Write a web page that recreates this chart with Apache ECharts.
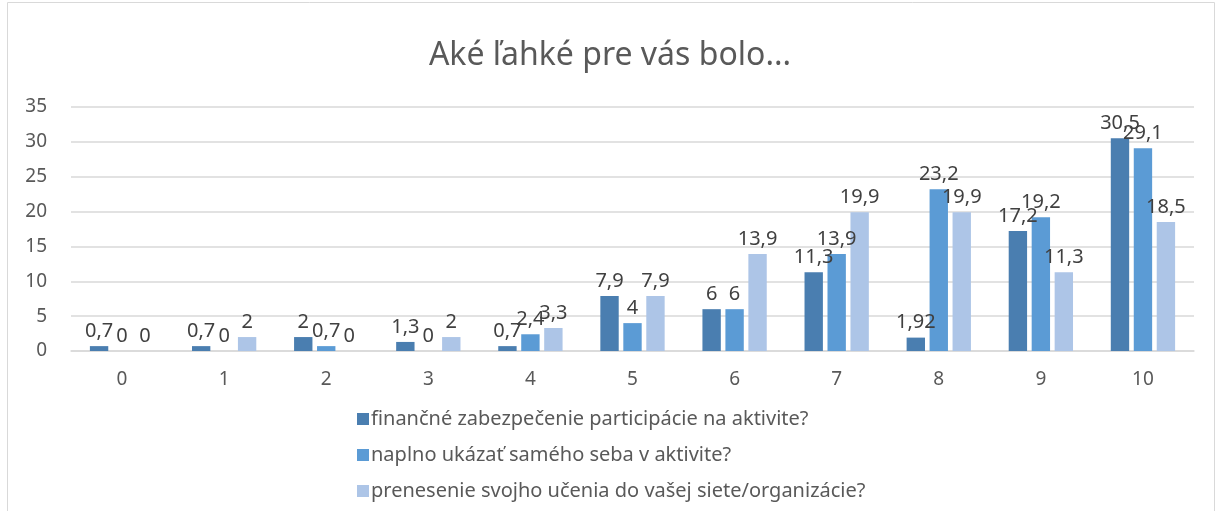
<!DOCTYPE html>
<html>
<head>
<meta charset="utf-8">
<script src="https://cdn.jsdelivr.net/npm/echarts@6/dist/echarts.min.js"></script>
<style>
  html, body { margin: 0; padding: 0; background: #fff; }
  #chart { width: 1220px; height: 511px; }
</style>
</head>
<body>
<div id="chart"></div>
<script>
  const categories = ['0', '1', '2', '3', '4', '5', '6', '7', '8', '9', '10']
  const seriesNames = [
    'finančné zabezpečenie participácie na aktivite?',
    'naplno ukázať samého seba v aktivite?',
    'prenesenie svojho učenia do vašej siete/organizácie?'
  ]
  const financne = [0.7, 0.7, 2, 1.3, 0.7, 7.9, 6, 11.3, 1.92, 17.2, 30.5]
  const naplno = [0, 0, 0.7, 0, 2.4, 4, 6, 13.9, 23.2, 19.2, 29.1]
  const prenesenie = [0, 2, 0, 2, 3.3, 7.9, 13.9, 19.9, 19.9, 11.3, 18.5]
  const colors = ['#4a7eb0', '#5b9bd5', '#adc5e7']

  const font = '"Noto Sans", "Open Sans", sans-serif'
  const chart = echarts.init(document.getElementById('chart'))

  const makeSeries = (name, data, color) => ({
    name,
    type: 'bar',
    data,
    barGap: '25%',
    barCategoryGap: '37%',
    itemStyle: { color },
    label: {
      show: true,
      position: 'top',
      distance: 5,
      color: '#404040',
      fontSize: 20,
      fontFamily: font,
      formatter: p => String(p.value).replace('.', ',')
    }
  })

  const option = {
    animation: false,
    color: colors,
    title: {
      text: 'Aké ľahké pre vás bolo...',
      left: 'center',
      top: 35,
      textStyle: { color: '#595959', fontSize: 32, fontWeight: 'normal', fontFamily: font }
    },
    graphic: [{
      type: 'rect',
      shape: { x: 7.5, y: 2.5, width: 1207, height: 520 },
      style: { fill: 'none', stroke: '#d9d9d9', lineWidth: 1 },
      silent: true
    }],
    legend: {
      orient: 'vertical',
      left: 352,
      top: 404,
      itemWidth: 12,
      itemHeight: 12,
      itemGap: 16,
      icon: 'rect',
      textStyle: { color: '#595959', fontSize: 20, fontFamily: font, padding: [0, 0, 0, -3] }
    },
    grid: { left: 71, right: 26, top: 107, bottom: 160 },
    xAxis: {
      type: 'category',
      data: categories,
      axisLine: { lineStyle: { color: '#d9d9d9', width: 1.5 } },
      axisTick: { show: false },
      axisLabel: { color: '#595959', fontSize: 19, fontFamily: font, margin: 19 }
    },
    yAxis: {
      type: 'value',
      min: 0,
      max: 35,
      interval: 5,
      axisLine: { show: false },
      axisTick: { show: false },
      splitLine: { lineStyle: { color: '#d9d9d9', width: 1.5 } },
      axisLabel: { color: '#595959', fontSize: 19, fontFamily: font, margin: 24 }
    },
    series: [
      makeSeries(seriesNames[0], financne, colors[0]),
      makeSeries(seriesNames[1], naplno, colors[1]),
      makeSeries(seriesNames[2], prenesenie, colors[2])
    ]
  }

  chart.setOption(option)
  window.addEventListener('resize', () => {
    chart.resize()
  })
</script>
</body>
</html>
